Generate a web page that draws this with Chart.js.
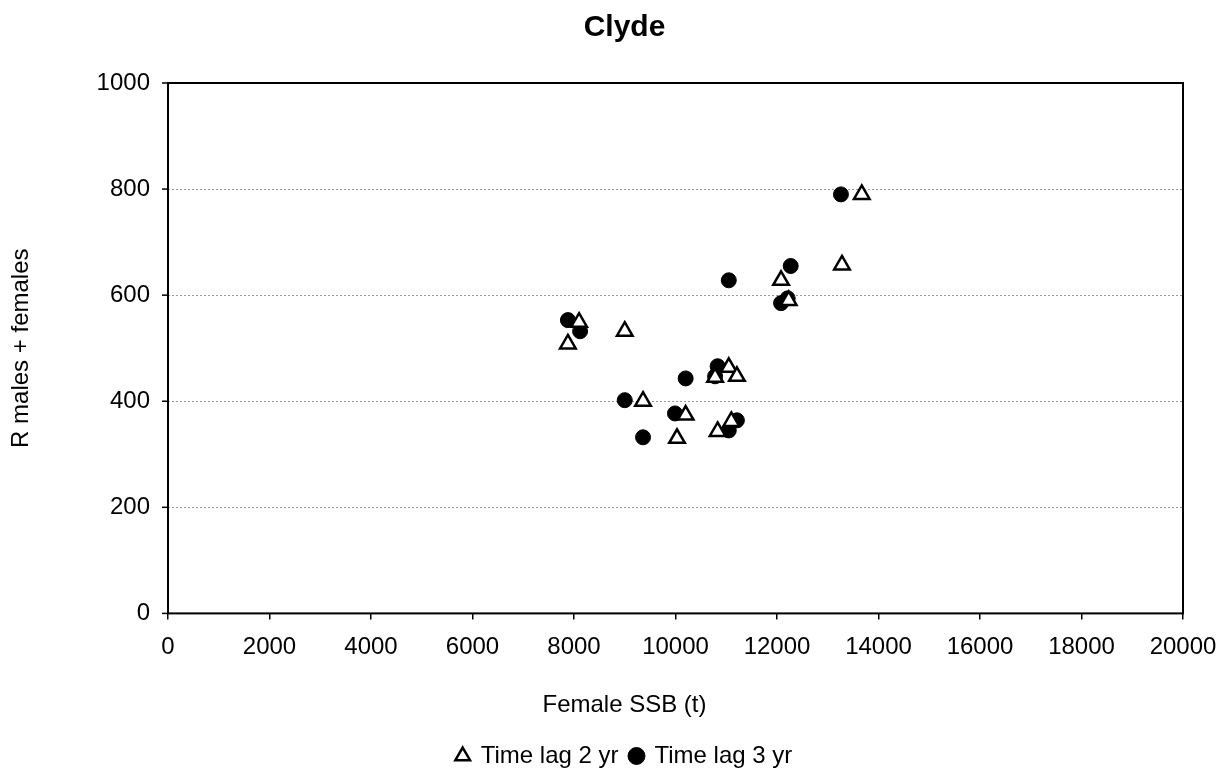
<!DOCTYPE html>
<html>
<head>
<meta charset="utf-8">
<script src="https://cdn.jsdelivr.net/npm/chart.js@4.4.0/dist/chart.umd.min.js"></script>
<style>
  html, body { margin: 0; padding: 0; background: #fff; }
  #wrap { width: 1219px; height: 776px; }
</style>
</head>
<body>
<div id="wrap"><canvas id="chartClyde"></canvas></div>
<script>
// recruitment vs female SSB, two time lags
const lag2Ssb = [7880, 8100, 9000, 9360, 10030, 10200, 10780, 10830, 11050, 11210, 11100, 12080, 12230, 13280, 13670];
const lag2Rec = [508, 549, 532, 400, 330, 374, 445, 343, 464, 447, 362, 628, 590, 657, 790];
const lag3Ssb = [7880, 8120, 9000, 9360, 9990, 10200, 10780, 10830, 11050, 11210, 11050, 12080, 12210, 12270, 13260];
const lag3Rec = [553, 532, 402, 332, 377, 443, 447, 466, 345, 364, 628, 585, 594, 655, 790];
const seriesNames = ["Time lag 2 yr", "Time lag 3 yr"];
const xTicks = [0, 2000, 4000, 6000, 8000, 10000, 12000, 14000, 16000, 18000, 20000];
const yTicks = [0, 200, 400, 600, 800, 1000];
const yTitle = "R males + females";
const xTitle = "Female SSB (t)";

function toPoints(xs, ys) {
    let pts = [];
    for (let i = 0; i < xs.length; i++) {
        pts.push({x: xs[i], y: ys[i]});
    }
    return pts;
}

const font = "'Liberation Sans', Arial, sans-serif";

// black frame round the plot area, short outside ticks on y, and the y title
const frame = {
    id: 'frame',
    afterDatasetsDraw(chart) {
        const a = chart.chartArea;
        const ctx = chart.ctx;
        const yScale = chart.scales.y;
        ctx.save();
        ctx.strokeStyle = '#000';
        ctx.lineWidth = 2;
        ctx.strokeRect(a.left, a.top, a.right - a.left, a.bottom - a.top);
        ctx.lineWidth = 1.5;
        yTicks.forEach(v => {
            let py = yScale.getPixelForValue(v);
            ctx.beginPath();
            ctx.moveTo(a.left - 6, py);
            ctx.lineTo(a.left, py);
            ctx.stroke();
        });
        ctx.translate(21, (a.top + a.bottom) / 2);
        ctx.rotate(-Math.PI / 2);
        ctx.fillStyle = '#000';
        ctx.font = "24px " + font;
        ctx.textAlign = 'center';
        ctx.textBaseline = 'middle';
        ctx.fillText(yTitle, 0, 0);
        ctx.restore();
    }
};

var myChart = new Chart(document.getElementById('chartClyde').getContext('2d'), {
    type: 'scatter',
    data: {
        datasets: [{
            label: seriesNames[0],
            data: toPoints(lag2Ssb, lag2Rec),
            pointStyle: 'triangle',
            pointRadius: 9,
            backgroundColor: '#fff',
            borderColor: '#000',
            borderWidth: 2.5
        },
        {
            label: seriesNames[1],
            data: toPoints(lag3Ssb, lag3Rec),
            pointStyle: 'circle',
            pointRadius: 7.5,
            backgroundColor: '#000',
            borderColor: '#000',
            borderWidth: 1
        }]
    },
    options: {
        responsive: true,
        maintainAspectRatio: false,
        animation: false,
        layout: { padding: { left: 34, right: 4, top: 0, bottom: -2 } },
        plugins: {
            title: {
                display: true,
                text: 'Clyde',
                color: '#000',
                font: { family: font, size: 30, weight: 'bold' },
                padding: { top: 10, bottom: 37 }
            },
            subtitle: {
                display: true,
                position: 'bottom',
                text: xTitle,
                color: '#000',
                font: { family: font, size: 24 },
                padding: { top: 15, bottom: 12 }
            },
            legend: {
                position: 'bottom',
                weight: 2000,
                labels: {
                    usePointStyle: true,
                    color: '#000',
                    font: { family: font, size: 24 },
                    boxWidth: 12,
                    boxHeight: 12,
                    padding: 12,
                    sort: (a, b) => a.datasetIndex - b.datasetIndex
                }
            },
            tooltip: { enabled: false }
        },
        scales: {
            x: {
                min: 0,
                max: 20000,
                afterBuildTicks: axis => { axis.ticks = xTicks.map(v => ({value: v})); },
                afterFit: axis => { axis.paddingRight = 36; },
                grid: { display: true, drawOnChartArea: false, tickLength: 6, color: '#000', lineWidth: 1.5 },
                border: { display: false },
                ticks: {
                    color: '#000',
                    font: { family: font, size: 24 },
                    maxRotation: 0,
                    padding: 14,
                    callback: v => String(v)
                }
            },
            y: {
                min: 0,
                max: 1000,
                afterBuildTicks: axis => { axis.ticks = yTicks.map(v => ({value: v})); },
                afterFit: axis => { axis.width = 134; },
                grid: {
                    color: ctx => (ctx.tick && ctx.tick.value > 0 && ctx.tick.value < 1000) ? '#999' : 'rgba(0,0,0,0)',
                    lineWidth: 1,
                    drawTicks: false
                },
                border: { display: false, dash: [2, 2] },
                ticks: {
                    color: '#000',
                    font: { family: font, size: 24 },
                    padding: 18,
                    callback: v => String(v)
                }
            }
        }
    },
    plugins: [frame]
});
</script>
</body>
</html>
